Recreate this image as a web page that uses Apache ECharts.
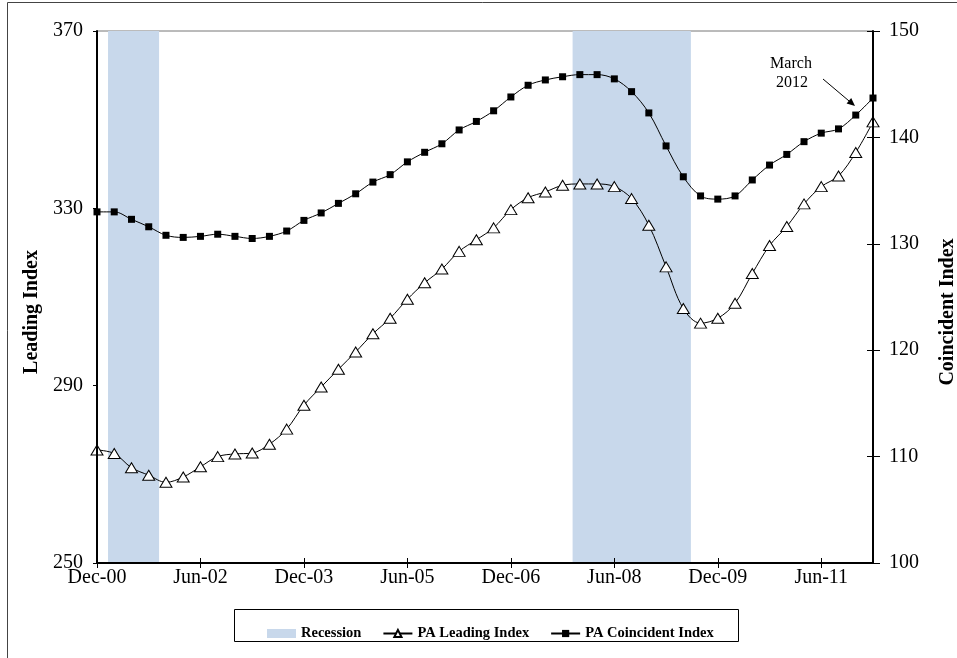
<!DOCTYPE html>
<html>
<head>
<meta charset="utf-8">
<script src="https://cdn.jsdelivr.net/npm/echarts@6/dist/echarts.min.js"></script>
<style>
html,body{margin:0;padding:0;background:#fff;}
#chart{width:957px;height:658px;}
</style>
</head>
<body>
<div id="chart"></div>
<script>
const quarters = ['Dec-00','Mar-01','Jun-01','Sep-01','Dec-01','Mar-02','Jun-02','Sep-02','Dec-02','Mar-03','Jun-03','Sep-03','Dec-03','Mar-04','Jun-04','Sep-04','Dec-04','Mar-05','Jun-05','Sep-05','Dec-05','Mar-06','Jun-06','Sep-06','Dec-06','Mar-07','Jun-07','Sep-07','Dec-07','Mar-08','Jun-08','Sep-08','Dec-08','Mar-09','Jun-09','Sep-09','Dec-09','Mar-10','Jun-10','Sep-10','Dec-10','Mar-11','Jun-11','Sep-11','Dec-11','Mar-12'];
const leadingIndex = [275.5,274.7,271.5,269.8,268.2,269.4,271.7,274.0,274.6,274.8,276.8,280.2,285.6,289.7,293.7,297.6,301.7,305.2,309.5,313.2,316.3,320.3,322.9,325.6,329.7,332.4,333.7,335.2,335.5,335.5,334.9,332.2,326.2,316.8,307.4,304.1,305.2,308.6,315.3,321.6,325.9,331.0,334.9,337.3,342.6,349.5];
const coincidentIndex = [133.0,133.0,132.3,131.6,130.8,130.6,130.7,130.9,130.7,130.5,130.7,131.2,132.2,132.9,133.8,134.7,135.8,136.5,137.7,138.6,139.4,140.7,141.5,142.5,143.8,144.9,145.4,145.7,145.9,145.9,145.5,144.3,142.3,139.2,136.3,134.5,134.2,134.5,136.0,137.4,138.4,139.6,140.4,140.8,142.1,143.7];
// recession spans in quarter-index units (from Dec-00 = 0)
const recessions = [[0.64, 3.6], [27.58, 34.44]];
const leftTicks = [250, 290, 330, 370];
const rightTicks = [100, 110, 120, 130, 140, 150];

const serif = 'Liberation Serif, Times New Roman, serif';
const chart = echarts.init(document.getElementById('chart'));
const xLabel = v => (Number.isInteger(v) && v % 6 === 0 && quarters[v]) ? quarters[v] : '';
const lastIdx = quarters.length - 1;

const option = {
  animation: false,
  backgroundColor: '#fff',
  grid: {
    left: 97, right: 84, top: 31, bottom: 95,
    containLabel: false, outerBoundsMode: 'none',
    show: true, borderColor: '#777', borderWidth: 1, backgroundColor: 'transparent'
  },
  legend: {
    left: 262, top: 621,
    itemWidth: 29, itemHeight: 9, itemGap: 21,
    textStyle: { fontFamily: serif, fontWeight: 'bold', fontSize: 14.5, color: '#000' },
    data: [
      { name: 'Recession', icon: 'rect' },
      { name: 'PA Leading Index' },
      { name: 'PA Coincident Index' }
    ]
  },
  xAxis: [
    {
      type: 'value', min: 0, max: lastIdx, interval: 6, z: 5,
      axisLine: { show: true, onZero: false, lineStyle: { color: '#000', width: 2 } },
      axisTick: { show: true, inside: false, length: 5, lineStyle: { color: '#000', width: 1 } },
      axisLabel: { formatter: xLabel, fontFamily: serif, fontSize: 20, color: '#000', margin: 5, showMaxLabel: false },
      splitLine: { show: false }
    },
    {
      type: 'value', min: 0, max: lastIdx, interval: 6, position: 'bottom', z: 5,
      axisLine: { show: false, onZero: false },
      axisTick: { show: true, inside: true, length: 5, lineStyle: { color: '#000', width: 1 } },
      axisLabel: { show: false },
      splitLine: { show: false }
    }
  ],
  yAxis: [
    {
      type: 'value', min: leftTicks[0], max: leftTicks[leftTicks.length - 1], interval: leftTicks[1] - leftTicks[0], position: 'left', z: 5,
      name: 'Leading Index', nameLocation: 'middle', nameGap: 53, nameRotate: 90,
      nameTextStyle: { fontFamily: serif, fontWeight: 'bold', fontSize: 20, color: '#000', padding: [0, 30, 0, 0] },
      axisLine: { show: true, onZero: false, lineStyle: { color: '#000', width: 2 } },
      axisTick: { show: true, length: 4, lineStyle: { color: '#000' } },
      axisLabel: { fontFamily: serif, fontSize: 20, color: '#000', margin: 14 },
      splitLine: { show: false }
    },
    {
      type: 'value', min: rightTicks[0], max: rightTicks[rightTicks.length - 1], interval: rightTicks[1] - rightTicks[0], position: 'right', z: 5,
      name: 'Coincident Index', nameLocation: 'middle', nameGap: 65, nameRotate: 90,
      nameTextStyle: { fontFamily: serif, fontWeight: 'bold', fontSize: 20, color: '#000', padding: [0, 30, 0, 0] },
      axisLine: { show: true, onZero: false, lineStyle: { color: '#000', width: 2 } },
      axisTick: { show: true, length: 7, lineStyle: { color: '#000' } },
      axisLabel: { fontFamily: serif, fontSize: 20, color: '#000', margin: 16 },
      splitLine: { show: false }
    },
    {
      type: 'value', min: rightTicks[0], max: rightTicks[rightTicks.length - 1], interval: rightTicks[1] - rightTicks[0], position: 'right', z: 5,
      axisLine: { show: false, onZero: false },
      axisTick: { show: true, inside: true, length: 6, lineStyle: { color: '#000' } },
      axisLabel: { show: false },
      splitLine: { show: false }
    }
  ],
  series: [
    {
      name: 'Recession', type: 'line', data: [], z: 1,
      itemStyle: { color: '#c8d8eb' }, lineStyle: { color: '#c8d8eb' },
      markArea: {
        silent: true,
        itemStyle: { color: '#c8d8eb', opacity: 1 },
        data: recessions.map(r => [{ xAxis: r[0] }, { xAxis: r[1] }])
      }
    },
    {
      name: 'PA Leading Index', type: 'line', xAxisIndex: 0, yAxisIndex: 0, z: 3,
      data: leadingIndex.map((v, i) => [i, v]),
      smooth: 0.35,
      symbol: 'triangle', symbolSize: [12, 10],
      lineStyle: { color: '#000', width: 1 },
      itemStyle: { color: '#fff', borderColor: '#000', borderWidth: 1 }
    },
    {
      name: 'PA Coincident Index', type: 'line', xAxisIndex: 0, yAxisIndex: 1, z: 3,
      data: coincidentIndex.map((v, i) => [i, v]),
      smooth: 0.35,
      symbol: 'rect', symbolSize: 7,
      lineStyle: { color: '#000', width: 1 },
      itemStyle: { color: '#000', borderColor: '#000', borderWidth: 0 }
    }
  ],
  graphic: [
    { type: 'line', shape: { x1: 7.5, y1: 2.5, x2: 957, y2: 2.5 }, style: { stroke: '#444', lineWidth: 1 } },
    { type: 'line', shape: { x1: 7.5, y1: 2.5, x2: 7.5, y2: 658 }, style: { stroke: '#444', lineWidth: 1 } },
    { type: 'rect', shape: { x: 234.5, y: 609.5, width: 504, height: 32 }, style: { fill: 'transparent', stroke: '#000', lineWidth: 1 }, z: 0 },
    { type: 'text', x: 791, y: 64, style: { text: 'March', font: '16px ' + serif, fill: '#000', align: 'center', verticalAlign: 'middle' } },
    { type: 'text', x: 792, y: 83, style: { text: '2012', font: '16px ' + serif, fill: '#000', align: 'center', verticalAlign: 'middle' } },
    { type: 'line', shape: { x1: 823, y1: 79, x2: 850, y2: 101.8 }, style: { stroke: '#000', lineWidth: 1 } },
    { type: 'polygon', shape: { points: [[855, 106], [846.6, 103.5], [851.2, 98.1]] }, style: { fill: '#000' } }
  ]
};
chart.setOption(option);
</script>
</body>
</html>
